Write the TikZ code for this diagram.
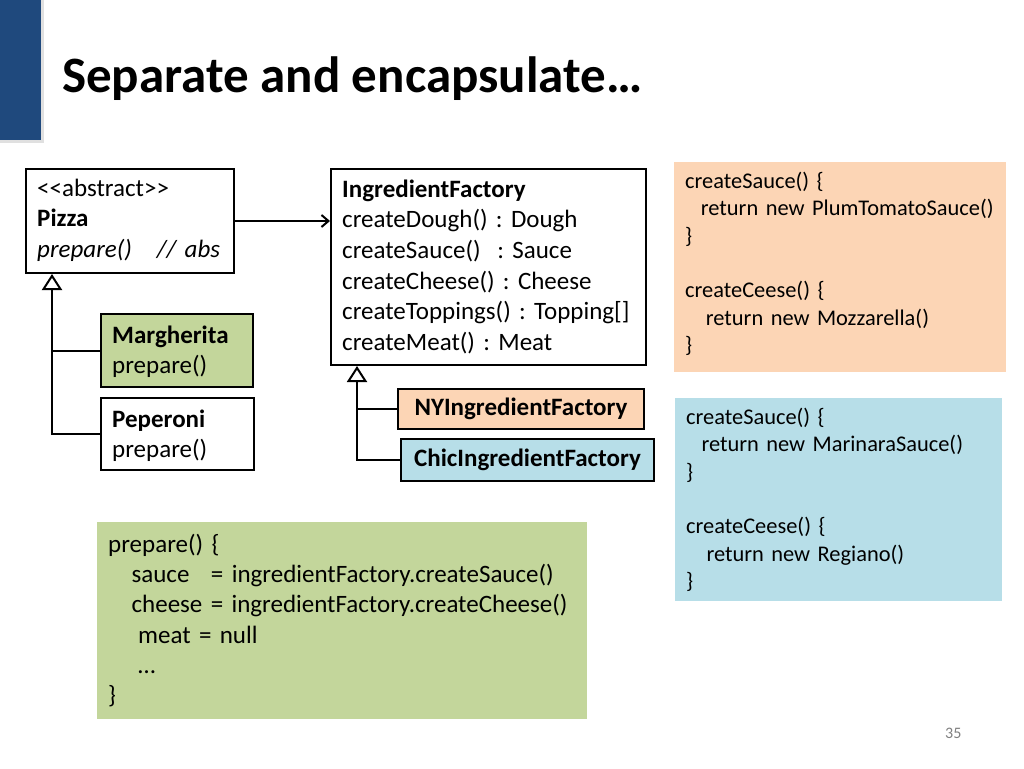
\documentclass[tikz,border=0pt]{standalone}
\usepackage{fontspec}
\setmainfont{Carlito}
\usetikzlibrary{arrows.meta,calc}
\definecolor{slideblue}{HTML}{1F497D}
\definecolor{olivefill}{HTML}{C3D69B}
\definecolor{peachfill}{HTML}{FCD5B5}
\definecolor{aquafill}{HTML}{B7DEE8}
\newcommand{\umlstrut}{\rule{0pt}{22pt}}
\newcommand{\codestrut}{\rule{0pt}{20pt}}
\frenchspacing

\begin{document}
\begin{tikzpicture}[x=1pt,y=-1pt,
    umlbox/.style={draw, line width=2pt, anchor=north west, inner sep=0pt, font=\fontsize{25}{30.6}\selectfont\bfseries},
    codebox/.style={anchor=north west, inner sep=0pt},
    umltext/.style={anchor=north west, yshift=22pt, inner sep=0pt, text width=330pt, align=left, font=\fontsize{25}{30.6}\selectfont},
    codetext/.style={anchor=north west, yshift=20pt, inner sep=0pt, text width=320pt, align=left, font=\fontsize{22.4}{27.4}\selectfont},
    link/.style={line width=2pt},
    inherit/.style={link, -{Triangle[open, length=16pt, width=20pt]}},
    uses/.style={link, -{Straight Barb[length=7pt, width=12pt]}}]
    \fill[white] (0,0) rectangle (1024,768);
    \useasboundingbox (0,0) rectangle (1024,768);

    % Title bar
    \fill[black!12] (0,0) rectangle (44,143);
    \fill[slideblue] (0,0) rectangle (41,140);
    \node[anchor=base west, inner sep=0pt, font=\fontsize{51}{60}\selectfont\bfseries] (title) at (62,92) {Separate and encapsulate…};

    % Pizza hierarchy
    \node[umlbox, minimum width=208pt, minimum height=104pt] (pizza) at (25,168) {};
    \node[umltext] (pizza-text) at (37,196) {\umlstrut<{}<abstract>{}>\\\textbf{Pizza}\\\textit{prepare()\ \ \ // abs}};
    \node[umlbox, fill=olivefill, minimum width=152pt, minimum height=73pt] (marg) at (100,313) {};
    \node[umltext] (marg-text) at (112,343) {\umlstrut\textbf{Margherita}\\prepare()};
    \node[umlbox, minimum width=153pt, minimum height=72pt] (pep) at (100,397) {};
    \node[umltext] (pep-text) at (112,427) {\umlstrut\textbf{Peperoni}\\prepare()};

    % Factory hierarchy
    \node[umlbox, minimum width=315pt, minimum height=196pt] (factory) at (330,168) {};
    \node[umltext] (factory-text) at (342,197) {\umlstrut\textbf{IngredientFactory}\\createDough() : Dough\\createSauce() \ : Sauce\\createCheese() : Cheese\\createToppings() : Topping[]\\createMeat() : Meat};
    \node[umlbox, fill=peachfill, minimum width=246pt, minimum height=40pt] (ny) at (397,388) {NYIngredientFactory};
    \node[umlbox, fill=aquafill, minimum width=253pt, minimum height=42pt] (chic) at (400,438) {ChicIngredientFactory};

    % Connectors
    \coordinate (pizza-foot) at ($(pizza.south west)+(27,0)$);
    \coordinate (factory-foot) at ($(factory.south west)+(27,0)$);
    \draw[uses] (pizza.east) -- (pizza.east -| factory.west);
    \draw[inherit] (pep.west) -| (pizza-foot);
    \draw[link] (marg.west) -- (marg.west -| pizza-foot);
    \draw[inherit] (chic.west) -| (factory-foot);
    \draw[link] (ny.west) -- (ny.west -| factory-foot);

    % Code boxes
    \node[codebox, fill=peachfill, minimum width=332pt, minimum height=210pt] (nycode) at (674,162) {};
    \node[codetext] (nycode-text) at (685,188) {\codestrut createSauce() \{\\\hspace*{15.7pt}return new PlumTomatoSauce()\\\}\\[27.4pt]createCeese() \{\\\hspace*{20.7pt}return new Mozzarella()\\\}};
    \node[codebox, fill=aquafill, minimum width=327pt, minimum height=203pt] (chiccode) at (675,398) {};
    \node[codetext] (chiccode-text) at (686,424) {\codestrut createSauce() \{\\\hspace*{15.3pt}return new MarinaraSauce()\\\}\\[27.4pt]createCeese() \{\\\hspace*{20.3pt}return new Regiano()\\\}};
    \node[codebox, fill=olivefill, minimum width=490pt, minimum height=197pt] (prepcode) at (97,522) {};
    \node[umltext, text width=480pt, font=\fontsize{25}{30.3}\selectfont] (prepcode-text) at (108,552) {\umlstrut prepare() \{\\\hspace*{23.4pt}sauce\hspace{21.5pt}= ingredientFactory.createSauce()\\\hspace*{23.4pt}cheese = ingredientFactory.createCheese()\\\hspace*{30pt}meat = null\\\hspace*{30pt}…\\\}};

    % Page number
    \node[anchor=base west, inner sep=0pt, font=\fontsize{16}{19}\selectfont, text=black!50] (pagenum) at (945,738) {35};
\end{tikzpicture}
\end{document}
